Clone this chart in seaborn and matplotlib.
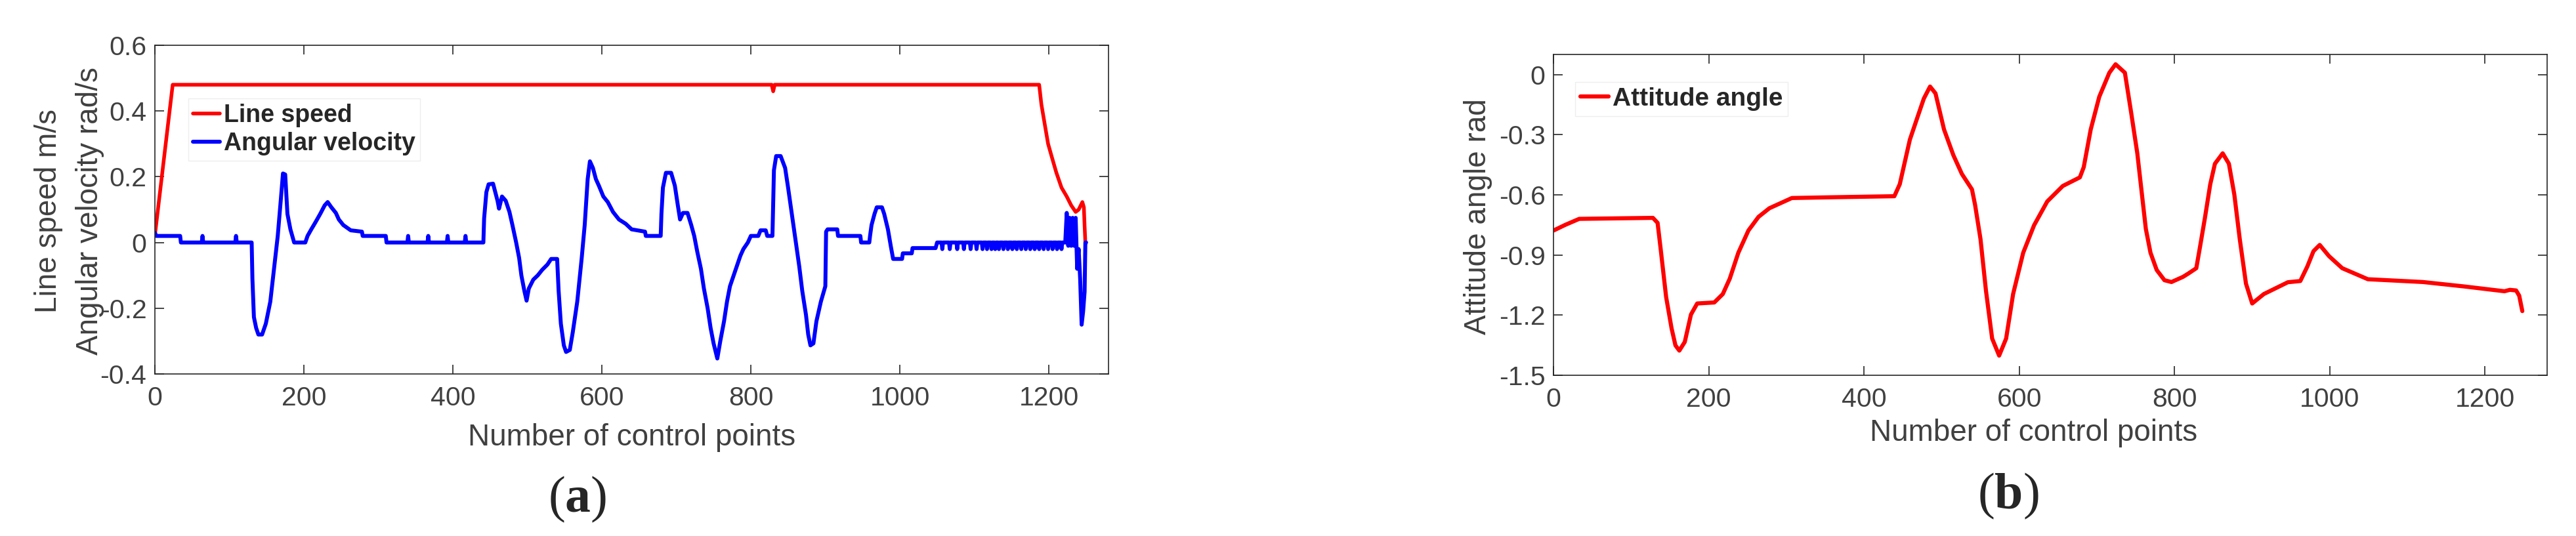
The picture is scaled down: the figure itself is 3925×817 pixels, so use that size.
"""Recreate the two-panel control-point chart: (a) speeds, (b) attitude angle."""
import matplotlib
matplotlib.use("Agg")
import matplotlib.pyplot as plt
import seaborn as sns
from matplotlib.font_manager import FontProperties

# ---- data ----
speed_idx = [0, 24, 828, 830, 832, 1187, 1190, 1195, 1199, 1204, 1210, 1217,
             1224, 1230, 1236, 1240, 1245, 1247, 1248, 1249]
speed_val = [0.02, 0.48, 0.48, 0.46, 0.48, 0.48, 0.42, 0.353, 0.30, 0.26, 0.213,
             0.167, 0.14, 0.113, 0.093, 0.10, 0.123, 0.107, 0.05, 0.0]

omega_idx = [0, 2, 34, 35, 63, 64, 65, 108, 109, 110, 130, 131, 133, 136, 139,
             144, 149, 155, 160, 165, 169, 172, 175, 178, 182, 187, 202, 205,
             210, 216, 222, 228, 232, 237, 243, 247, 253, 263, 278, 279, 310,
             311, 339, 340, 341, 366, 367, 368, 392, 393, 394, 416, 417, 418,
             441, 442, 445, 448, 454, 457, 460, 462, 466, 471, 476, 480, 485,
             489, 492, 496, 499, 502, 508, 514, 520, 527, 532, 540, 542, 545,
             549, 552, 557, 561, 567, 573, 577, 581, 584, 588, 592, 596, 602,
             608, 615, 623, 632, 640, 658, 659, 679, 680, 682, 686, 693, 698,
             702, 705, 709, 715, 720, 724, 728, 733, 737, 742, 746, 750, 755,
             759, 764, 768, 772, 777, 781, 786, 790, 796, 800, 810, 813, 820,
             822, 829, 831, 834, 840, 846, 850, 855, 860, 865, 869, 874, 877,
             880, 884, 888, 894, 900, 901, 903, 916, 917, 947, 948, 959, 960,
             962, 966, 969, 976, 979, 984, 988, 991, 1003, 1004, 1016, 1017,
             1048, 1050,
             1056, 1057, 1058, 1066, 1067, 1068, 1076, 1077, 1078, 1085, 1086,
             1087, 1094, 1095, 1096, 1102, 1103, 1104, 1110, 1111, 1112, 1116,
             1117, 1118, 1122, 1123, 1124, 1127, 1128, 1129, 1132, 1133, 1134,
             1138, 1139, 1140, 1144, 1145, 1146, 1150, 1151, 1152, 1156, 1157,
             1158, 1162, 1163, 1164, 1168, 1169, 1170, 1174, 1175, 1176, 1180,
             1181, 1182, 1186, 1187, 1188, 1192, 1193, 1194, 1198, 1199, 1200,
             1204, 1205, 1206, 1210, 1211, 1212, 1216, 1217, 1218,
             1222, 1224, 1226, 1228, 1230, 1232, 1234, 1236, 1238, 1240, 1242,
             1244, 1246, 1248, 1249, 1250]
omega_val = [0.03, 0.02, 0.02, 0.0, 0.0, 0.02, 0.0, 0.0, 0.02, 0.0, 0.0, -0.11,
             -0.227, -0.26, -0.28, -0.28, -0.247, -0.18, -0.08, 0.02, 0.127,
             0.21, 0.207, 0.087, 0.04, 0.0, 0.0, 0.02, 0.04, 0.063, 0.087, 0.113,
             0.123, 0.107, 0.09, 0.07, 0.053, 0.037, 0.033, 0.02, 0.02, 0.0, 0.0,
             0.02, 0.0, 0.0, 0.02, 0.0, 0.0, 0.02, 0.0, 0.0, 0.02, 0.0, 0.0,
             0.073, 0.153, 0.177, 0.179, 0.153, 0.127, 0.103, 0.14, 0.127, 0.093,
             0.053, 0.0, -0.047, -0.1, -0.147, -0.177, -0.14, -0.113, -0.1,
             -0.083, -0.067, -0.05, -0.05, -0.147, -0.247, -0.313, -0.333,
             -0.327, -0.273, -0.18, -0.047, 0.053, 0.193, 0.247, 0.227, 0.193,
             0.173, 0.14, 0.123, 0.093, 0.07, 0.057, 0.04, 0.033, 0.02, 0.02,
             0.087, 0.167, 0.212, 0.212, 0.173, 0.113, 0.07, 0.09, 0.09, 0.053,
             0.02, -0.027, -0.08, -0.14, -0.2, -0.26, -0.307, -0.353, -0.30,
             -0.24, -0.18, -0.133, -0.1, -0.073, -0.04, -0.02, 0.0, 0.02, 0.02,
             0.037, 0.037, 0.02, 0.02, 0.22, 0.263, 0.263, 0.227, 0.167, 0.087,
             0.007, -0.073, -0.147, -0.22, -0.28, -0.313, -0.307, -0.24, -0.18,
             -0.133, 0.033, 0.04, 0.04, 0.02, 0.02, 0.0, 0.0, 0.02, 0.053, 0.087,
             0.107, 0.107, 0.087, 0.04, -0.013, -0.05, -0.05, -0.033, -0.033,
             -0.017, -0.017, 0.0,
             0.0, -0.02, 0.0, 0.0, -0.02, 0.0, 0.0, -0.02, 0.0, 0.0, -0.02,
             0.0, 0.0, -0.02, 0.0, 0.0, -0.02, 0.0, 0.0, -0.02, 0.0, 0.0,
             -0.02, 0.0, 0.0, -0.02, 0.0, 0.0, -0.02, 0.0, 0.0, -0.02, 0.0,
             0.0, -0.02, 0.0, 0.0, -0.02, 0.0, 0.0, -0.02, 0.0, 0.0, -0.02,
             0.0, 0.0, -0.02, 0.0, 0.0, -0.02, 0.0, 0.0, -0.02, 0.0, 0.0,
             -0.02, 0.0, 0.0, -0.02, 0.0, 0.0, -0.02, 0.0, 0.0, -0.02, 0.0,
             0.0, -0.02, 0.0, 0.0, -0.02, 0.0, 0.0, -0.02, 0.0,
             0.0, 0.09, -0.01, 0.075, -0.01, 0.075, -0.01, 0.075, -0.08, -0.02,
             -0.11, -0.25, -0.21, -0.15, 0.0, 0.0]

att_idx = [0, 15, 33, 128, 134, 138, 145, 152, 157, 162, 169, 177, 185, 207,
           218, 227, 238, 251, 264, 278, 307, 362, 439, 446, 459, 468, 477, 485,
           492, 503, 515, 526, 539, 543, 550, 557, 565, 574, 583, 592, 605, 619,
           636, 656, 678, 683, 692, 703, 716, 724, 736, 744, 752, 758, 763, 769,
           777, 787, 796, 811, 818, 828, 833, 839, 846, 852, 862, 870, 877, 884,
           892, 900, 915, 946, 962, 971, 979, 987, 999, 1016, 1049, 1120, 1173,
           1225, 1232, 1240, 1244, 1248]
att_val = [-0.778, -0.75, -0.72, -0.715, -0.74, -0.872, -1.11, -1.266, -1.351,
           -1.377, -1.334, -1.197, -1.142, -1.137, -1.095, -1.018, -0.889,
           -0.778, -0.71, -0.667, -0.616, -0.612, -0.607, -0.547, -0.325,
           -0.222, -0.12, -0.06, -0.094, -0.274, -0.402, -0.496, -0.573, -0.65,
           -0.821, -1.077, -1.317, -1.402, -1.317, -1.095, -0.889, -0.752,
           -0.633, -0.556, -0.513, -0.462, -0.274, -0.111, 0.009, 0.051, 0.009,
           -0.188, -0.393, -0.599, -0.77, -0.889, -0.975, -1.026, -1.035,
           -1.009, -0.992, -0.966, -0.855, -0.718, -0.547, -0.445, -0.393,
           -0.445, -0.599, -0.821, -1.043, -1.142, -1.095, -1.036, -1.03,
           -0.958, -0.881, -0.85, -0.906, -0.966, -1.021, -1.035, -1.057,
           -1.081, -1.074, -1.077, -1.103, -1.18]

x_ticks = [0, 200, 400, 600, 800, 1000, 1200]
left_yticks = [-0.4, -0.2, 0, 0.2, 0.4, 0.6]
left_yticklabels = ["-0.4", "-0.2", "0", "0.2", "0.4", "0.6"]
right_yticks = [-1.5, -1.2, -0.9, -0.6, -0.3, 0]
right_yticklabels = ["-1.5", "-1.2", "-0.9", "-0.6", "-0.3", "0"]

RED = "#ff0000"
BLUE = "#0000ff"
AX_COLOR = "#262626"
TXT_COLOR = "#404040"

sns.set_style("ticks")
plt.rcParams["font.family"] = ["Liberation Sans", "DejaVu Sans"]
plt.rcParams["mathtext.fontset"] = "custom"
plt.rcParams["mathtext.rm"] = "Liberation Serif"
plt.rcParams["mathtext.bf"] = "Liberation Serif:bold"

fig = plt.figure(figsize=(39.25, 8.17), dpi=100)
ax_a = fig.add_axes([0.0601, 0.3023, 0.3702, 0.6132])
ax_b = fig.add_axes([0.6031, 0.2999, 0.3857, 0.5985])


def style_axes(ax):
    for side in ["top", "right", "bottom", "left"]:
        ax.spines[side].set_visible(True)
        ax.spines[side].set_color(AX_COLOR)
        ax.spines[side].set_linewidth(1.2)
    ax.tick_params(direction="in", length=10, width=1.2, color=AX_COLOR,
                   labelsize=29.5, labelcolor=TXT_COLOR,
                   top=True, right=True)
    ax.tick_params(axis="x", pad=13)
    ax.tick_params(axis="y", pad=9)
    ax.grid(False)


# (a) line speed + angular velocity
sns.lineplot(x=speed_idx, y=speed_val, ax=ax_a, color=RED, linewidth=4.0,
             sort=False, estimator=None, label="Line speed")
sns.lineplot(x=omega_idx, y=omega_val, ax=ax_a, color=BLUE, linewidth=4.3,
             sort=False, estimator=None, label="Angular velocity")
ax_a.set_xlim(0, 1280)
ax_a.set_ylim(-0.4, 0.6)
ax_a.set_xticks(x_ticks)
ax_a.set_yticks(left_yticks)
ax_a.set_yticklabels(left_yticklabels)
style_axes(ax_a)
ax_a.set_xlabel("Number of control points", fontsize=33, color=TXT_COLOR)
ax_a.xaxis.set_label_coords(0.5, -0.15)
ax_a.set_ylabel("")
ax_a.text(-0.1115, 0.495, "Line speed m/s", transform=ax_a.transAxes,
          rotation=90, rotation_mode="anchor", ha="center", va="center",
          fontsize=33, color=TXT_COLOR)
ax_a.text(-0.0681, 0.495, "Angular velocity rad/s", transform=ax_a.transAxes,
          rotation=90, rotation_mode="anchor", ha="center", va="center",
          fontsize=33, color=TXT_COLOR)
ax_a.legend(loc="upper left", bbox_to_anchor=(0.035, 0.838), borderaxespad=0,
            prop=FontProperties(family="Liberation Sans", weight="bold", size=27),
            frameon=True, fancybox=False, edgecolor="#eeeeee", framealpha=1,
            handlelength=1.1, handletextpad=0.15, borderpad=0.2,
            labelspacing=0.2)

# (b) attitude angle
sns.lineplot(x=att_idx, y=att_val, ax=ax_b, color=RED, linewidth=4.5,
             sort=False, estimator=None, label="Attitude angle")
ax_b.set_xlim(0, 1280)
ax_b.set_ylim(-1.5, 0.1)
ax_b.set_xticks(x_ticks)
ax_b.set_yticks(right_yticks)
ax_b.set_yticklabels(right_yticklabels)
style_axes(ax_b)
ax_b.set_xlabel("Number of control points", fontsize=33, color=TXT_COLOR)
ax_b.xaxis.set_label_coords(0.483, -0.135)
ax_b.set_ylabel("Attitude angle rad", fontsize=33, color=TXT_COLOR)
ax_b.yaxis.set_label_coords(-0.076, 0.494)
ax_b.yaxis.label.set_va("center")
ax_b.legend(loc="upper left", bbox_to_anchor=(0.022, 0.914), borderaxespad=0,
            prop=FontProperties(family="Liberation Sans", weight="bold", size=28),
            frameon=True, fancybox=False, edgecolor="#eeeeee", framealpha=1,
            handlelength=1.1, handletextpad=0.15, borderpad=0.2)

# panel letters
fig.text(0.224, 0.0685, r"($\mathbf{a}$)", ha="center", va="center",
         fontsize=56, family="Liberation Serif")
fig.text(0.7796, 0.0747, r"($\mathbf{b}$)", ha="center", va="center",
         fontsize=56, family="Liberation Serif")

fig.savefig("out.png", dpi=100, facecolor="white")
